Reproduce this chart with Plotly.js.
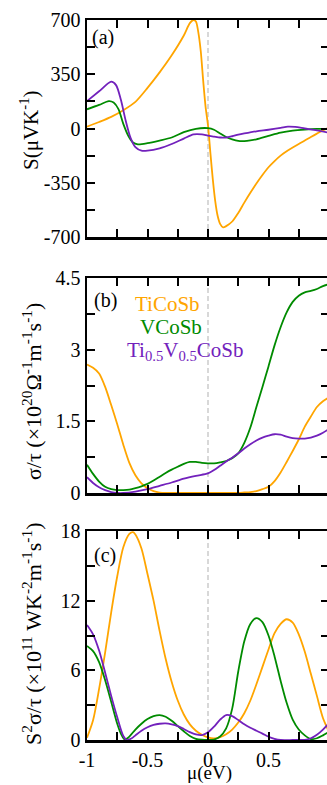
<!DOCTYPE html>
<html>
<head>
<meta charset="utf-8">
<script src="https://cdn.plot.ly/plotly-3.0.1.min.js"></script>
<style>
html,body{margin:0;padding:0;overflow:hidden;background:#fff;}
#plot{width:335px;height:785px;}
</style>
</head>
<body>
<div id="plot"></div>
<script>
// ---------- data ----------
// Panel (a): Seebeck S (μV/K)
var muS_Ti = [-1,-0.9,-0.8,-0.7,-0.6,-0.5,-0.4,-0.3,-0.2,-0.15,-0.12,-0.1,-0.08,-0.06,-0.04,-0.02,0,0.02,0.04,0.06,0.08,0.1,0.125,0.15,0.2,0.25,0.3,0.35,0.4,0.45,0.5,0.55,0.6,0.65,0.7,0.75,0.8,0.85,0.9,0.95,1.0];
var S_Ti   = [12,42,75,118,172,262,362,472,600,680,700,690,620,500,310,140,20,-160,-330,-470,-565,-615,-638,-630,-600,-545,-478,-415,-355,-300,-250,-210,-175,-147,-123,-100,-78,-55,-33,-12,5];
var muS_V  = [-1,-0.9,-0.82,-0.78,-0.74,-0.7,-0.66,-0.62,-0.58,-0.5,-0.4,-0.3,-0.2,-0.1,0,0.05,0.1,0.15,0.2,0.25,0.3,0.35,0.4,0.5,0.6,0.7,0.8,0.9,1.0];
var S_V    = [124,152,177,168,125,30,-45,-90,-102,-95,-78,-58,-24,-2,2,-8,-32,-55,-70,-80,-81,-77,-70,-48,-27,-14,-7,-3,-3];
var muS_TiV = [-1,-0.9,-0.8,-0.76,-0.72,-0.68,-0.64,-0.6,-0.55,-0.5,-0.4,-0.3,-0.2,-0.12,-0.05,0,0.05,0.1,0.15,0.2,0.25,0.3,0.4,0.5,0.6,0.66,0.72,0.8,0.9,1.0];
var S_TiV   = [177,240,302,280,185,50,-60,-120,-143,-143,-128,-100,-65,-38,-38,-46,-52,-58,-58,-50,-40,-32,-18,-8,4,12,10,0,-12,-28];

// Panel (b): sigma/tau (1e20 1/(Ohm m s))
var muC_Ti = [-1,-0.95,-0.9,-0.85,-0.8,-0.75,-0.7,-0.65,-0.6,-0.55,-0.5,-0.45,-0.4,-0.35,-0.3,-0.2,-0.1,0,0.1,0.2,0.25,0.3,0.35,0.4,0.45,0.5,0.55,0.6,0.65,0.7,0.75,0.8,0.85,0.9,0.95,1.0];
var C_Ti   = [2.69,2.62,2.50,2.22,1.84,1.44,1.01,0.63,0.37,0.20,0.10,0.04,0.01,0,0,0,0,0,0,0,0,0.01,0.02,0.04,0.08,0.13,0.25,0.43,0.65,0.88,1.12,1.39,1.60,1.80,1.92,2.0];
var muC_V  = [-1,-0.95,-0.9,-0.85,-0.8,-0.75,-0.7,-0.65,-0.6,-0.55,-0.5,-0.45,-0.4,-0.35,-0.3,-0.25,-0.2,-0.15,-0.1,-0.05,0,0.05,0.1,0.15,0.2,0.25,0.3,0.35,0.4,0.45,0.5,0.55,0.6,0.65,0.7,0.75,0.8,0.85,0.9,0.95,1.0];
var C_V    = [0.59,0.40,0.24,0.13,0.08,0.06,0.06,0.07,0.10,0.14,0.19,0.26,0.34,0.42,0.49,0.55,0.61,0.65,0.65,0.63,0.62,0.62,0.64,0.67,0.73,0.83,1.05,1.37,1.80,2.22,2.65,3.09,3.47,3.78,4.00,4.13,4.20,4.23,4.27,4.33,4.37];
var muC_TiV = [-1,-0.95,-0.9,-0.85,-0.8,-0.75,-0.7,-0.6,-0.5,-0.4,-0.3,-0.2,-0.1,0,0.05,0.1,0.15,0.2,0.25,0.3,0.35,0.4,0.45,0.5,0.55,0.6,0.65,0.7,0.75,0.8,0.85,0.9,0.95,1.0];
var C_TiV   = [0.33,0.21,0.12,0.06,0.02,0.0,0.0,0.03,0.08,0.15,0.22,0.30,0.36,0.41,0.48,0.57,0.66,0.74,0.83,0.93,1.02,1.10,1.16,1.20,1.23,1.22,1.18,1.15,1.14,1.14,1.16,1.20,1.26,1.34];

// Panel (c): power factor S^2 sigma/tau (1e11 W/(K^2 m s))
var muP_Ti = [-1,-0.95,-0.9,-0.85,-0.8,-0.75,-0.7,-0.65,-0.62,-0.6,-0.55,-0.5,-0.45,-0.4,-0.35,-0.3,-0.25,-0.2,-0.15,-0.1,-0.05,0,0.05,0.1,0.15,0.2,0.25,0.3,0.35,0.4,0.45,0.5,0.55,0.6,0.65,0.7,0.75,0.8,0.85,0.9,0.95,1.0];
var P_Ti   = [0.2,1.7,4.4,7.55,11.0,14.1,16.6,17.75,17.9,17.7,16.5,14.3,12.0,9.4,7.0,5.0,3.4,2.2,1.35,0.8,0.45,0.22,0.14,0.25,0.5,0.9,1.5,2.3,3.4,4.8,6.3,7.8,9.2,10.0,10.4,10.1,9.1,7.6,5.7,3.8,1.9,0.7];
var muP_V  = [-1,-0.95,-0.9,-0.85,-0.8,-0.75,-0.72,-0.69,-0.66,-0.6,-0.55,-0.5,-0.45,-0.4,-0.35,-0.3,-0.25,-0.2,-0.15,-0.1,-0.05,0,0.05,0.1,0.15,0.2,0.25,0.3,0.35,0.4,0.45,0.5,0.55,0.6,0.65,0.7,0.75,0.8,0.85,0.9,0.95,1.0];
var P_V    = [8.1,7.65,6.7,5.15,3.3,1.4,0.55,0.05,0.2,0.9,1.4,1.8,2.05,2.15,2.0,1.65,1.2,0.75,0.35,0.1,0.02,0.0,0.04,0.3,1.0,2.7,5.9,8.5,10.0,10.5,10.15,9.0,7.2,5.1,3.2,1.75,0.9,0.4,0.08,0.15,0.4,0.7];
var muP_TiV = [-1,-0.95,-0.9,-0.85,-0.8,-0.75,-0.7,-0.67,-0.63,-0.6,-0.55,-0.5,-0.45,-0.4,-0.35,-0.3,-0.25,-0.2,-0.15,-0.1,-0.05,0,0.05,0.1,0.15,0.2,0.25,0.3,0.35,0.4,0.45,0.5,0.55,0.6,0.7,0.8,0.85,0.9,0.95,1.0];
var P_TiV   = [9.9,9.1,7.7,5.8,3.8,1.95,0.35,0.0,0.15,0.4,0.8,1.1,1.3,1.4,1.43,1.35,1.2,0.95,0.68,0.48,0.42,0.66,1.15,1.75,2.15,2.05,1.72,1.35,1.05,0.8,0.55,0.28,0.1,0.0,0.0,0.02,0.15,0.45,0.9,1.45];

// tick labels (major) and minor tick steps
var xTickVals = [-1,-0.5,0,0.5];
var xTickText = ['-1','-0.5','0','0.5'];
var yaTickVals = [-700,-350,0,350,700];
var yaTickText = ['-700','-350','0','350','700'];
var ybTickVals = [0,1.5,3,4.5];
var ybTickText = ['0','1.5','3','4.5'];
var ycTickVals = [0,6,12,18];
var ycTickText = ['0','6','12','18'];

var names = ['TiCoSb','VCoSb','Ti0.5V0.5CoSb'];
var colors = ['#FFA500','#008B00','#7221BC'];

// ---------- layout ----------
var W = 335, H = 785, L = 87, R = 6;
var FONT = 'Liberation Serif, Times New Roman, serif';
function px2x(p){ return (p - L) / (W - L - R); }
function py2y(p){ return 1 - p / H; }

function mk(x, y, i, xa, ya){
  return {x:x, y:y, xaxis:xa, yaxis:ya, type:'scatter', mode:'lines', name:names[i],
          showlegend:false, line:{color:colors[i], width:1.8, shape:'spline', smoothing:0.8}};
}
var data = [
  mk(muS_Ti,S_Ti,0,'x','y'), mk(muS_V,S_V,1,'x','y'), mk(muS_TiV,S_TiV,2,'x','y'),
  mk(muC_Ti,C_Ti,0,'x2','y2'), mk(muC_V,C_V,1,'x2','y2'), mk(muC_TiV,C_TiV,2,'x2','y2'),
  mk(muP_Ti,P_Ti,0,'x3','y3'), mk(muP_V,P_V,1,'x3','y3'), mk(muP_TiV,P_TiV,2,'x3','y3')
];

function minorOf(t0, dt){
  return {tick0:t0, dtick:dt, ticks:'inside', ticklen:8, tickwidth:2, tickcolor:'#000', showgrid:false};
}
function xax(anchor, labels){
  return {anchor:anchor, range:[-1,1], tickmode:'array', tickvals:xTickVals, ticktext:xTickText,
    minor:minorOf(-1, 0.25),
    showticklabels:labels, ticks:'inside', ticklen:8, tickwidth:2, tickcolor:'#000',
    showline:true, linewidth:2.5, linecolor:'#000', mirror:'ticks', showgrid:false, zeroline:false,
    tickfont:{family:FONT, size:20, color:'#000'}};
}
function yax(anchor, dom, rng, tv, tt, mdt){
  return {anchor:anchor, domain:dom, range:rng, tickmode:'array', tickvals:tv, ticktext:tt,
    minor:minorOf(0, mdt),
    ticks:'inside', ticklen:8, tickwidth:2, tickcolor:'#000',
    showline:true, linewidth:2.5, linecolor:'#000', mirror:'ticks', showgrid:false, zeroline:false,
    tickfont:{family:FONT, size:20, color:'#000'}};
}

var layout = {
  width:W, height:H, margin:{l:L, r:R, t:0, b:0},
  paper_bgcolor:'#fff', plot_bgcolor:'#fff', showlegend:false,
  font:{family:FONT, color:'#000'},
  xaxis: xax('y', false),
  xaxis2: xax('y2', false),
  xaxis3: xax('y3', true),
  yaxis: yax('x', [py2y(237), py2y(20)], [-700,700], yaTickVals, yaTickText, 175),
  yaxis2: yax('x2', [py2y(493), py2y(278)], [0,4.5], ybTickVals, ybTickText, 0.75),
  yaxis3: yax('x3', [py2y(740), py2y(531)], [0,18], ycTickVals, ycTickText, 3),
  shapes: ['x','x2','x3'].map(function(xr, k){
    var yr = ['y','y2','y3'][k];
    return {type:'line', xref:xr, yref:yr+' domain', x0:0, x1:0, y0:0, y1:1,
            line:{color:'#cccccc', width:1.5, dash:'5px,3px'}, layer:'below'};
  }),
  annotations: [
    {text:'(a)', xref:'paper', yref:'paper', x:px2x(90), y:py2y(38), xanchor:'left', yanchor:'middle', showarrow:false, font:{family:FONT, size:20, color:'#000'}},
    {text:'(b)', xref:'paper', yref:'paper', x:px2x(92), y:py2y(300), xanchor:'left', yanchor:'middle', showarrow:false, font:{family:FONT, size:20, color:'#000'}},
    {text:'(c)', xref:'paper', yref:'paper', x:px2x(92), y:py2y(555), xanchor:'left', yanchor:'middle', showarrow:false, font:{family:FONT, size:20, color:'#000'}},
    {text:names[0], xref:'paper', yref:'paper', x:px2x(134), y:py2y(304), xanchor:'left', yanchor:'middle', borderpad:0, showarrow:false, font:{family:FONT, size:21, color:colors[0]}},
    {text:names[1], xref:'paper', yref:'paper', x:px2x(139), y:py2y(327), xanchor:'left', yanchor:'middle', borderpad:0, showarrow:false, font:{family:FONT, size:21, color:colors[1]}},
    {text:'Ti<sub>0.5</sub>V<sub>0.5</sub>CoSb', xref:'paper', yref:'paper', x:px2x(126), y:py2y(351), xanchor:'left', yanchor:'middle', borderpad:0, showarrow:false, font:{family:FONT, size:21, color:colors[2]}},
    {text:'S(μVK<sup>-1</sup>)', xref:'paper', yref:'paper', x:px2x(30), y:py2y(130), xanchor:'center', yanchor:'middle', textangle:-90, showarrow:false, font:{family:FONT, size:21, color:'#000'}},
    {text:'σ/τ (×10<sup>20</sup>Ω<sup>-1</sup>m<sup>-1</sup>s<sup>-1</sup>)', xref:'paper', yref:'paper', x:px2x(32), y:py2y(392), xanchor:'center', yanchor:'middle', textangle:-90, showarrow:false, font:{family:FONT, size:22, color:'#000'}},
    {text:'S<sup>2</sup>σ/τ (×10<sup>11</sup> WK<sup>-2</sup>m<sup>-1</sup>s<sup>-1</sup>)', xref:'paper', yref:'paper', x:px2x(32), y:py2y(634), xanchor:'center', yanchor:'middle', textangle:-90, showarrow:false, font:{family:FONT, size:22, color:'#000'}},
    {text:'μ(eV)', xref:'paper', yref:'paper', x:px2x(209), y:py2y(785), xanchor:'center', yanchor:'bottom', borderpad:0, showarrow:false, font:{family:FONT, size:19, color:'#000'}}
  ]
};

Plotly.newPlot('plot', data, layout, {displayModeBar:false, staticPlot:true});
</script>
</body>
</html>
